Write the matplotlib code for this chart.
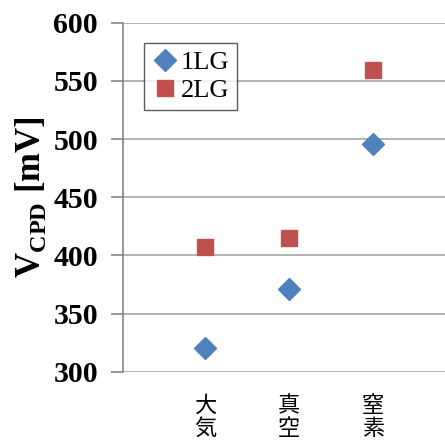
import matplotlib
matplotlib.use('Agg')
import matplotlib.pyplot as plt

categories = ['大\n気', '真\n空', '窒\n素']
vals_1lg = [320.5, 371.5, 495.5]
vals_2lg = [407, 414.5, 559.5]
yticks = [300, 350, 400, 450, 500, 550, 600]

W, H = 445, 441
fig = plt.figure(figsize=(W/100, H/100), dpi=100)
ax = fig.add_axes([123/W, 1 - 371.7/H, 1 - 123/W, (371.7 - 22.7)/H])

x = list(range(len(categories)))
ax.plot(x, vals_1lg, 'D', color='#4F81BD', ms=11, label='1LG', zorder=3)
ax.plot(x, vals_2lg, 's', color='#C0504D', ms=12, label='2LG', zorder=3)

ax.set_ylim(300, 600)
ax.set_xlim(-0.976, 2.857)
ax.set_yticks(yticks)
ax.yaxis.grid(True, color='#A6A6A6', lw=1.2)
ax.set_axisbelow(True)
for s in ['top', 'right', 'bottom']:
    ax.spines[s].set_visible(False)
ax.spines['left'].set_color('#868686')
ax.spines['left'].set_linewidth(1.2)
ax.tick_params(axis='y', length=9, width=1.2, color='#868686', pad=9)
ax.tick_params(axis='x', length=0, pad=16)

for lab in ax.get_yticklabels():
    lab.set_fontfamily('Liberation Serif')
    lab.set_fontweight('bold')
    lab.set_fontsize(21.5)

ax.set_xticks(x)
ax.set_xticklabels(categories, fontfamily='Noto Sans CJK JP', fontsize=16,
                   linespacing=1.0)

ax.set_ylabel(r'V$_{\mathregular{CPD}}$ [mV]', fontfamily='Liberation Serif',
              fontweight='bold', fontsize=25, labelpad=4)

leg = ax.legend(loc='upper left',
                prop={'family': 'Liberation Serif', 'size': 19},
                frameon=True, fancybox=False, edgecolor='#333333',
                handletextpad=0.1, handlelength=1.0, borderpad=0.3,
                labelspacing=0.15, borderaxespad=0)
leg.get_frame().set_linewidth(1.0)
leg.set_bbox_to_anchor(((144 - 123) / (W - 123), (371.7 - 43) / (371.7 - 22.7)))

fig.savefig('out.png', dpi=100)
